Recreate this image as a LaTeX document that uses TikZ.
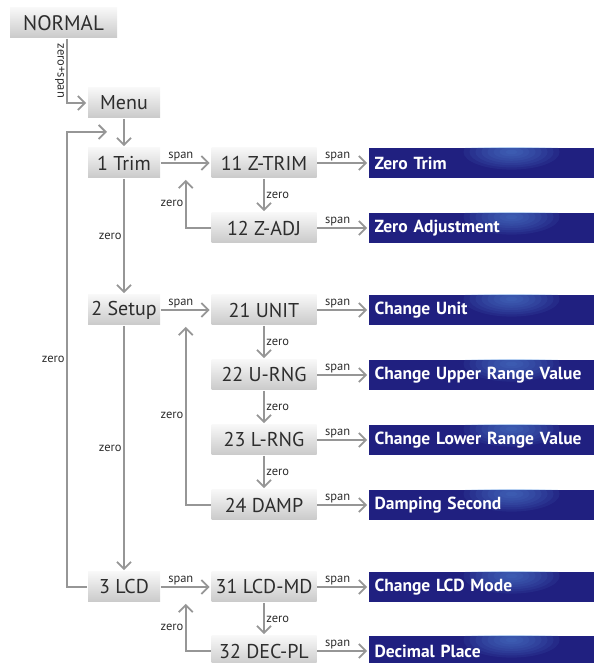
\documentclass[tikz,border=0pt]{standalone}
\usepackage{fontspec}
\setmainfont{PT Sans}
\usetikzlibrary{arrows.meta,positioning,calc}
\definecolor{linegray}{RGB}{150,150,150}
\definecolor{boxtext}{RGB}{45,45,45}
\definecolor{navy}{RGB}{32,32,128}
\definecolor{glow}{RGB}{90,150,225}

\begin{document}
\begin{tikzpicture}[x=1pt,y=1pt,->,>={Straight Barb[length=7pt,width=14pt]},shorten >=1pt,
                    line width=1.8pt,color=linegray,
                    menu node/.style={rectangle,top color=gray!6,bottom color=gray!42,draw=none,
                      minimum height=30pt,inner sep=0pt,text=boxtext,font=\fontsize{20}{22}\selectfont},
                    short node/.style={menu node,minimum width=72pt},
                    long node/.style={menu node,minimum width=105pt},
                    action node/.style={rectangle,fill=navy,draw=none,minimum width=225pt,minimum height=30pt,
                      text width=214pt,inner xsep=5.5pt,inner ysep=0pt,align=left,text=white,
                      font=\bfseries\fontsize{17.5}{19}\selectfont,
                      path picture={\foreach \r in {1,...,8}
                        \fill[glow,opacity=0.09] ([xshift=30pt,yshift=-4pt]path picture bounding box.north)
                          ellipse ({6*\r pt} and {2.2*\r pt});}},
                    key/.style={font=\fontsize{12.5}{14}\selectfont,text=boxtext,inner sep=1.5pt}]
  \useasboundingbox (0,0) rectangle (594,663);

  \node[menu node,minimum width=107pt,font=\fontsize{21}{23}\selectfont] (normal) at (63.5,640) {NORMAL};
  \node[short node] (menu) at (124,560) {Menu};
  \node[short node] (trim) at (124,500) {1 Trim};
  \node[short node] (setup) at (124,353) {2 Setup};
  \node[short node] (lcd) at (124,76) {3 LCD};

  \node[long node] (ztrim) [right of=trim,node distance=140pt] {11 Z-TRIM};
  \node[long node] (zadj) [below of=ztrim,node distance=65pt] {12 Z-ADJ};
  \node[long node] (unit) [right of=setup,node distance=140pt] {21 UNIT};
  \node[long node] (urng) [below of=unit,node distance=65pt] {22 U-RNG};
  \node[long node] (lrng) [below of=urng,node distance=65pt] {23 L-RNG};
  \node[long node] (damp) [below of=lrng,node distance=65pt] {24 DAMP};
  \node[long node] (lcdmd) [right of=lcd,node distance=140pt] {31 LCD-MD};
  \node[long node] (decpl) [below of=lcdmd,node distance=64pt] {32 DEC-PL};

  \node[action node] (zerotrim) [right of=ztrim,node distance=217.5pt] {Zero Trim};
  \node[action node] (zeroadj) [right of=zadj,node distance=217.5pt] {Zero Adjustment};
  \node[action node] (chunit) [right of=unit,node distance=217.5pt] {Change Unit};
  \node[action node] (chupper) [right of=urng,node distance=217.5pt] {Change Upper Range Value};
  \node[action node] (chlower) [right of=lrng,node distance=217.5pt] {Change Lower Range Value};
  \node[action node] (dampsec) [right of=damp,node distance=217.5pt] {Damping Second};
  \node[action node] (chlcd) [right of=lcdmd,node distance=217.5pt] {Change LCD Mode};
  \node[action node] (decplace) [right of=decpl,node distance=217.5pt] {Decimal Place};

  \coordinate (rail) at (67,0);
  \coordinate (back) at (108,531);
  \coordinate (ret) at ($(trim.east)!0.5!(ztrim.west)$);

  \path[every node/.style={key}]
    (menu)
        edge (trim)
    (trim)
        edge node[above,pos=0.4] {span} (ztrim)
        edge node[left] {zero} (setup)
    (setup)
        edge node[above,pos=0.4] {span} (unit)
        edge node[left] {zero} (lcd)
    (lcd)
        edge node[above,pos=0.4] {span} (lcdmd)
    (ztrim)
        edge node[right] {zero} (zadj)
        edge node[above,pos=0.4] {span} (zerotrim)
    (zadj)
        edge node[above,pos=0.4] {span} (zeroadj)
    (unit)
        edge node[right] {zero} (urng)
        edge node[above,pos=0.4] {span} (chunit)
    (urng)
        edge node[right] {zero} (lrng)
        edge node[above,pos=0.4] {span} (chupper)
    (lrng)
        edge node[right] {zero} (damp)
        edge node[above,pos=0.4] {span} (chlower)
    (damp)
        edge node[above,pos=0.4] {span} (dampsec)
    (lcdmd)
        edge node[right] {zero} (decpl)
        edge node[above,pos=0.4] {span} (chlcd)
    (decpl)
        edge node[above,pos=0.4] {span} (decplace)
    ;

  % way back up to the menu
  \draw (normal.south -| rail) |- node[key,rotate=-90,anchor=north,pos=0.25] {zero+span} (menu.west);
  \draw (lcd.west) -| node[key,left,pos=0.75] {zero} (rail |- back) -- (back);
  \draw (zadj.west) -| node[key,left,pos=0.75] {zero} (ret |- ztrim.south);
  \draw (damp.west) -| node[key,left,pos=0.75] {zero} (ret |- unit.south);
  \draw (decpl.west) -| node[key,left,pos=0.75] {zero} (ret |- lcdmd.south);
\end{tikzpicture}
\end{document}
